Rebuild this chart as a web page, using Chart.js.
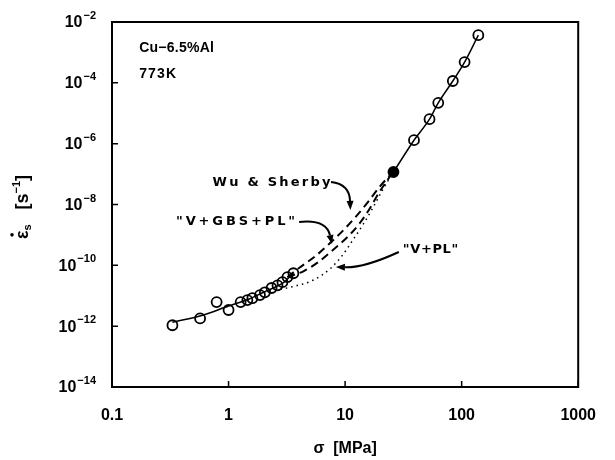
<!DOCTYPE html>
<html>
<head>
<meta charset="utf-8">
<script src="https://cdn.jsdelivr.net/npm/chart.js@4"></script>
<style>
  html, body { margin: 0; padding: 0; background: #fff; }
  canvas { display: block; }
</style>
</head>
<body>
<canvas id="chart" width="615" height="460"></canvas>
<script>
// measured creep data, Cu-6.5%Al at 773K (stress in MPa, strain rate in 1/s)
const stressData = [0.33, 0.57, 0.79, 1.0, 1.27, 1.45, 1.6, 1.86, 2.05, 2.34, 2.63, 2.9, 3.2, 3.6, 26, 39, 53, 63, 84, 106, 139];
const rateData = [1.07e-12, 1.8e-12, 6.2e-12, 3.4e-12, 6.2e-12, 7.2e-12, 8.3e-12, 1.05e-11, 1.3e-11, 1.8e-11, 2.2e-11, 2.8e-11, 4.1e-11, 5.5e-11, 1.17e-7, 1.3e-6, 6.4e-6, 2.2e-5, 1.15e-4, 4.8e-4, 3.7e-3];

// solid fit through the low stress data
const fitLowStress = [0.33, 0.6, 1, 1.5, 2, 2.5, 3, 3.6];
const fitLowRate = [1.35e-12, 2.3e-12, 4.6e-12, 7.8e-12, 1.3e-11, 1.9e-11, 2.8e-11, 5.5e-11];

// solid fit through the high stress data
const fitHighStress = [26, 39, 53, 63, 84, 106, 139];
const fitHighRate = [1.17e-7, 1.3e-6, 6.4e-6, 2.2e-5, 1.15e-4, 4.8e-4, 3.7e-3];

// model curves
const wuStress = [3.2, 4.03, 5.58, 7.43, 9.9, 12.7, 16.0, 19.7, 25.8];
const wuRate = [4.1e-11, 8.2e-11, 2.03e-10, 5.4e-10, 1.57e-9, 4.5e-9, 1.31e-8, 3.77e-8, 1.17e-7];
const gbsStress = [3.2, 4.43, 5.91, 7.87, 10.5, 13.2, 16.0, 19.7, 25.8];
const gbsRate = [4.1e-11, 6.5e-11, 1.29e-10, 3.2e-10, 8.55e-10, 2.29e-9, 6.6e-9, 2.58e-8, 1.17e-7];
const vplStress = [2.02, 3.46, 5.37, 7.57, 9.53, 11.5, 14.0, 16.9, 20.5, 25.8];
const vplRate = [1.33e-11, 1.95e-11, 3.3e-11, 8.2e-11, 2.19e-10, 6.3e-10, 1.97e-9, 6.6e-9, 2.58e-8, 1.17e-7];

// axis ticks
const xTickValues = [0.1, 1, 10, 100, 1000];
const xTickLabels = ['0.1', '1', '10', '100', '1000'];
const yTickValues = [1e-14, 1e-12, 1e-10, 1e-8, 1e-6, 1e-4, 1e-2];
const yTickExponents = ['−14', '−12', '−10', '−8', '−6', '−4', '−2'];

const FONT = '"Liberation Sans", Arial, sans-serif';
const WIDE = '"DejaVu Sans", sans-serif';

// text labels and arrows, anchored in data coordinates
const labels = [
  { text: 'Cu−6.5%Al', x: 0.171, y: 1.4e-3, width: 75, font: 'bold 14px ' + FONT },
  { text: '773K', x: 0.171, y: 1.95e-4, width: 38, font: 'bold 14px ' + FONT },
  { text: 'Wu & Sherby', x: 0.73, y: 5.1e-8, width: 120, font: 'bold 13px ' + WIDE },
  { text: '"V+GBS+PL"', x: 0.354, y: 2.66e-9, width: 122, font: 'bold 13px ' + WIDE },
  { text: '"V+PL"', x: 31.3, y: 3.2e-10, width: 56, font: 'bold 13px ' + WIDE }
];
const arrows = [
  { from: [7.57, 5.5e-8], ctrl: [10.9, 4.7e-8], to: [11.1, 6.6e-9] },
  { from: [4.03, 2.66e-9], ctrl: [6.89, 3.34e-9], to: [7.72, 5.0e-10] },
  { from: [28.9, 2.75e-10], ctrl: [14.5, 8.2e-11], to: [8.34, 8.8e-11] }
];

const toPoints = (xs, ys) => xs.map((x, i) => ({ x: x, y: ys[i] }));

const lineSet = (xs, ys, dash, width) => ({
  data: toPoints(xs, ys),
  showLine: true,
  borderColor: '#000',
  borderWidth: width,
  borderDash: dash,
  pointRadius: 0,
  cubicInterpolationMode: 'monotone',
  fill: false
});

function drawFitText(ctx, text, x, y, width) {
  ctx.letterSpacing = '0px';
  const w = ctx.measureText(text).width;
  const ls = Math.max(0, (width - w) / text.length);
  ctx.letterSpacing = ls + 'px';
  ctx.fillText(text, x, y);
  ctx.letterSpacing = '0px';
}

const framePlugin = {
  id: 'frame',
  afterDraw(chart) {
    const ctx = chart.ctx;
    const a = chart.chartArea;
    const xs = chart.scales.x;
    const ys = chart.scales.y;
    ctx.save();
    ctx.strokeStyle = '#000';
    ctx.fillStyle = '#000';

    // box
    ctx.lineWidth = 2;
    ctx.strokeRect(a.left, a.top, a.right - a.left, a.bottom - a.top);

    // inward tick marks
    ctx.lineWidth = 1.5;
    ctx.beginPath();
    yTickValues.forEach(v => {
      const py = ys.getPixelForValue(v);
      ctx.moveTo(a.left, py);
      ctx.lineTo(a.left + 6, py);
    });
    xTickValues.forEach(v => {
      const px = xs.getPixelForValue(v);
      ctx.moveTo(px, a.bottom);
      ctx.lineTo(px, a.bottom - 6);
    });
    ctx.stroke();

    // y tick labels 10^n
    ctx.textBaseline = 'middle';
    yTickValues.forEach((v, i) => {
      const py = ys.getPixelForValue(v);
      const right = a.left - 16;
      ctx.font = 'bold 11px ' + FONT;
      ctx.textAlign = 'right';
      const sup = yTickExponents[i];
      const sw = ctx.measureText(sup).width;
      ctx.fillText(sup, right, py - 6);
      ctx.font = 'bold 16px ' + FONT;
      ctx.fillText('10', right - sw - 1, py + 1);
    });

    // y axis title
    ctx.save();
    ctx.translate(22, 207);
    ctx.rotate(-Math.PI / 2);
    ctx.textAlign = 'left';
    ctx.textBaseline = 'middle';
    const big = 'bold 18px ' + FONT;
    const small = 'bold 11px ' + FONT;
    const parts = [
      { t: 'ε', f: big, dy: 1 },
      { t: 's', f: small, dy: 6 },
      { t: '   [s', f: big, dy: 1 },
      { t: '−1', f: small, dy: -5 },
      { t: ']', f: big, dy: 1 }
    ];
    let total = 0;
    parts.forEach(p => { ctx.font = p.f; p.w = ctx.measureText(p.t).width; total += p.w; });
    let cx = -total / 2;
    parts.forEach((p, i) => {
      ctx.font = p.f;
      ctx.fillText(p.t, cx, p.dy);
      if (i === 0) {
        ctx.beginPath();
        ctx.arc(cx + p.w / 2, -10, 1.8, 0, Math.PI * 2);
        ctx.fill();
      }
      cx += p.w;
    });
    ctx.restore();

    // annotations
    ctx.textAlign = 'left';
    ctx.textBaseline = 'middle';
    labels.forEach(l => {
      ctx.font = l.font;
      drawFitText(ctx, l.text, xs.getPixelForValue(l.x), ys.getPixelForValue(l.y), l.width);
    });

    ctx.lineWidth = 2;
    arrows.forEach(ar => {
      const p0 = [xs.getPixelForValue(ar.from[0]), ys.getPixelForValue(ar.from[1])];
      const pc = [xs.getPixelForValue(ar.ctrl[0]), ys.getPixelForValue(ar.ctrl[1])];
      const p1 = [xs.getPixelForValue(ar.to[0]), ys.getPixelForValue(ar.to[1])];
      const ang = Math.atan2(p1[1] - pc[1], p1[0] - pc[0]);
      const len = 9, hw = 3.5;
      const bx = p1[0] - len * Math.cos(ang), by = p1[1] - len * Math.sin(ang);
      ctx.beginPath();
      ctx.moveTo(p0[0], p0[1]);
      ctx.quadraticCurveTo(pc[0], pc[1], bx, by);
      ctx.stroke();
      ctx.beginPath();
      ctx.moveTo(p1[0], p1[1]);
      ctx.lineTo(bx + hw * Math.sin(ang), by - hw * Math.cos(ang));
      ctx.lineTo(bx - hw * Math.sin(ang), by + hw * Math.cos(ang));
      ctx.closePath();
      ctx.fill();
    });

    ctx.restore();
  }
};

new Chart(document.getElementById('chart'), {
  type: 'scatter',
  data: {
    datasets: [
      {
        data: toPoints(stressData, rateData),
        showLine: false,
        pointStyle: 'circle',
        pointRadius: 5,
        borderWidth: 1.8,
        borderColor: '#000',
        backgroundColor: ctx => (ctx.raw && ctx.raw.x === 26 ? '#000' : 'rgba(0,0,0,0)')
      },
      lineSet(fitLowStress, fitLowRate, [], 1.5),
      lineSet(fitHighStress, fitHighRate, [], 1.5),
      lineSet(wuStress, wuRate, [8, 5], 2),
      lineSet(gbsStress, gbsRate, [8, 5], 2),
      lineSet(vplStress, vplRate, [1.5, 4], 1.5)
    ]
  },
  options: {
    responsive: false,
    animation: false,
    events: [],
    layout: { padding: { top: 22, right: 22, left: 0, bottom: 0 } },
    plugins: {
      legend: { display: false },
      tooltip: { enabled: false }
    },
    scales: {
      x: {
        type: 'logarithmic',
        position: 'bottom',
        min: 0.1,
        max: 1000,
        afterBuildTicks: s => { s.ticks = xTickValues.map(v => ({ value: v })); },
        afterFit: s => { s.height = 73; },
        grid: { display: false, drawTicks: false },
        border: { display: false },
        ticks: {
          autoSkip: false,
          maxRotation: 0,
          padding: 19,
          color: '#000',
          font: { family: FONT, size: 16, weight: 'bold' },
          callback: v => xTickLabels[xTickValues.indexOf(v)]
        },
        title: {
          display: true,
          text: 'σ  [MPa]',
          color: '#000',
          font: { family: FONT, size: 16, weight: 'bold' },
          padding: { top: 0, bottom: 2 }
        }
      },
      y: {
        type: 'logarithmic',
        min: 1e-14,
        max: 1e-2,
        afterBuildTicks: s => { s.ticks = yTickValues.map(v => ({ value: v })); },
        afterFit: s => { s.width = 112; },
        grid: { display: false, drawTicks: false },
        border: { display: false },
        ticks: { display: false }
      }
    }
  },
  plugins: [framePlugin]
});
</script>
</body>
</html>
